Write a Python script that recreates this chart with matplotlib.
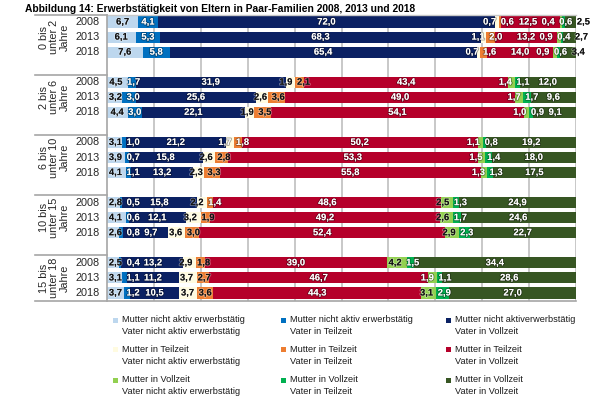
import matplotlib
matplotlib.use('Agg')
import matplotlib.pyplot as plt
import matplotlib.patheffects as pe
import numpy as np
from matplotlib.patches import Rectangle

plt.rcParams['font.family'] = ['Liberation Sans', 'DejaVu Sans']

# Data: shares (in %) of the nine employment combinations
groups = ['0 bis\nunter 2\nJahre', '2 bis\nunter 6\nJahre', '6 bis\nunter 10\nJahre',
          '10 bis\nunter 15\nJahre', '15 bis\nunter 18\nJahre']
years = ['2008', '2013', '2018']

legend_labels = [
    'Mutter nicht aktiv erwerbstätig\nVater nicht aktiv erwerbstätig',
    'Mutter nicht aktiv erwerbstätig\nVater in Teilzeit',
    'Mutter nicht aktiverwerbstätig\nVater in Vollzeit',
    'Mutter in Teilzeit\nVater nicht aktiv erwerbstätig',
    'Mutter in Teilzeit\nVater in Teilzeit',
    'Mutter in Teilzeit\nVater in Vollzeit',
    'Mutter in Vollzeit\nVater nicht aktiv erwerbstätig',
    'Mutter in Vollzeit\nVater in Teilzeit',
    'Mutter in Vollzeit\nVater in Vollzeit',
]
colors = ['#BDD7EE', '#0070C0', '#0B2163', '#FFFBE0', '#ED7D31',
          '#B5002A', '#92D050', '#00B050', '#375623']
dark = [False, True, True, False, False, True, False, True, True]

values_0_2 = [[6.7, 4.1, 72.0, 0.7, 0.6, 12.5, 0.4, 0.6, 2.5],
              [6.1, 5.3, 68.3, 1.1, 2.0, 13.2, 0.9, 0.4, 2.7],
              [7.6, 5.8, 65.4, 0.7, 1.6, 14.0, 0.9, 0.6, 3.4]]
values_2_6 = [[4.5, 1.7, 31.9, 1.9, 2.1, 43.4, 1.4, 1.1, 12.0],
              [3.2, 3.0, 25.6, 2.6, 3.6, 49.0, 1.7, 1.7, 9.6],
              [4.4, 3.0, 22.1, 1.9, 3.5, 54.1, 1.0, 0.9, 9.1]]
values_6_10 = [[3.1, 1.0, 21.2, 1.7, 1.8, 50.2, 1.1, 0.8, 19.2],
               [3.9, 0.7, 15.8, 2.6, 2.8, 53.3, 1.5, 1.4, 18.0],
               [4.1, 1.1, 13.2, 2.3, 3.3, 55.8, 1.3, 1.3, 17.5]]
values_10_15 = [[2.8, 0.5, 15.8, 2.2, 1.4, 48.6, 2.5, 1.3, 24.9],
                [4.1, 0.6, 12.1, 3.2, 1.9, 49.2, 2.6, 1.7, 24.6],
                [2.6, 0.8, 9.7, 3.6, 3.0, 52.4, 2.9, 2.3, 22.7]]
values_15_18 = [[2.5, 0.4, 13.2, 2.9, 1.8, 39.0, 4.2, 1.5, 34.4],
                [3.1, 1.1, 11.2, 3.7, 2.7, 46.7, 1.9, 1.1, 28.6],
                [3.7, 1.2, 10.5, 3.7, 3.6, 44.3, 3.1, 2.9, 27.0]]
all_values = [values_0_2, values_2_6, values_6_10, values_10_15, values_15_18]

fig = plt.figure(figsize=(6.05, 3.99), dpi=100)
ax = fig.add_axes([107 / 605, 1 - 300.5 / 399, 469 / 605, 286 / 399])

# row positions: 3 rows per group plus one empty row
rows = []
for g in range(len(groups)):
    for i in range(len(years)):
        rows.append(g * 4 + i)
data = np.array([row for grp in all_values for row in grp])

# stacked bars
left = np.zeros(len(rows))
for k in range(len(colors)):
    ax.barh(rows, data[:, k], left=left, height=0.74, color=colors[k],
            edgecolor='none', zorder=2)
    left += data[:, k]

# value labels, pushed apart when they overlap
px = 469 / 100.0  # pixels per percent
pad = 3.5 / px
for r, vals in zip(rows, data):
    starts = np.concatenate([[0], np.cumsum(vals)[:-1]])
    cx = starts + vals / 2
    texts = [f'{v:.1f}'.replace('.', ',') for v in vals]
    w = np.array([(len(t) * 4.4 + 1) / px for t in texts])
    for _ in range(400):
        for i in range(1, len(cx)):
            ov = (cx[i - 1] + w[i - 1] / 2 + pad) - (cx[i] - w[i] / 2)
            if ov > 0:
                cx[i - 1] -= ov / 2
                cx[i] += ov / 2
        if cx[0] - w[0] / 2 < 0.3:
            cx[0] = 0.3 + w[0] / 2
    ends = starts + vals
    for t, x in zip(texts, cx):
        idx = np.searchsorted(ends, x)
        if idx < len(vals) and dark[idx]:
            col, halo = 'white', (0, 0, 0, 0.35)
        else:
            col, halo = '#111111', (1, 1, 1, 0.35)
        ax.text(x, r, t, ha='center', va='center', fontsize=6.8,
                fontweight='bold', color=col, zorder=3,
                path_effects=[pe.withStroke(linewidth=1.3, foreground=halo)])

ax.set_xlim(0, 100)
ax.set_ylim(max(rows) + 0.5, -0.5)
ax.set_xticks(np.arange(10, 101, 10))
ax.grid(axis='x', color='#BFBFBF', linewidth=1.2, zorder=0)
ax.tick_params(left=False, bottom=False, labelleft=False, labelbottom=False)
for s in ['top', 'right', 'bottom']:
    ax.spines[s].set_visible(False)
ax.spines['left'].set_color('#A6A6A6')
ax.spines['left'].set_linewidth(1.2)

# left table: separator lines, year and group labels
xl = -(107 - 35) / px
for g in range(len(groups)):
    ax.plot([xl, 0], [g * 4 - 0.5] * 2, color='#A6A6A6', lw=1.2, clip_on=False)
    ax.text(-(107 - 54) / px, g * 4 + 1, groups[g], rotation=90, ha='center',
            va='center', fontsize=7.8, color='#262626', linespacing=1.05)
    for i, y in enumerate(years):
        ax.text(-1.6, g * 4 + i, y, ha='right', va='center', fontsize=7.8,
                color='#262626')
ax.plot([xl, 100], [max(rows) + 0.5] * 2, color='#A6A6A6', lw=1.2, clip_on=False)
ax.plot([0, 100], [-0.5] * 2, color='#C8C8C8', lw=1.0, clip_on=False)

fig.text(25 / 605, 1 - 9 / 399, 'Abbildung 14: Erwerbstätigkeit von Eltern in Paar-Familien 2008, 2013 und 2018',
         fontsize=7.4, fontweight='bold', va='center', ha='left')

# legend, 3 x 3
col_x = [113, 281, 446]
row_y = [320, 349.5, 380]
for k, lab in enumerate(legend_labels):
    cx0 = col_x[k % 3]
    cy0 = row_y[k // 3]
    fig.patches.append(Rectangle((cx0 / 605, 1 - (cy0 + 2.5) / 399), 5 / 605, 5 / 399,
                                 transform=fig.transFigure, facecolor=colors[k],
                                 edgecolor='none'))
    fig.text((cx0 + 9) / 605, 1 - (cy0 - 5) / 399, lab, fontsize=6.6, va='top',
             ha='left', color='#1A1A1A', linespacing=1.45)

fig.savefig('out.png', dpi=100)
